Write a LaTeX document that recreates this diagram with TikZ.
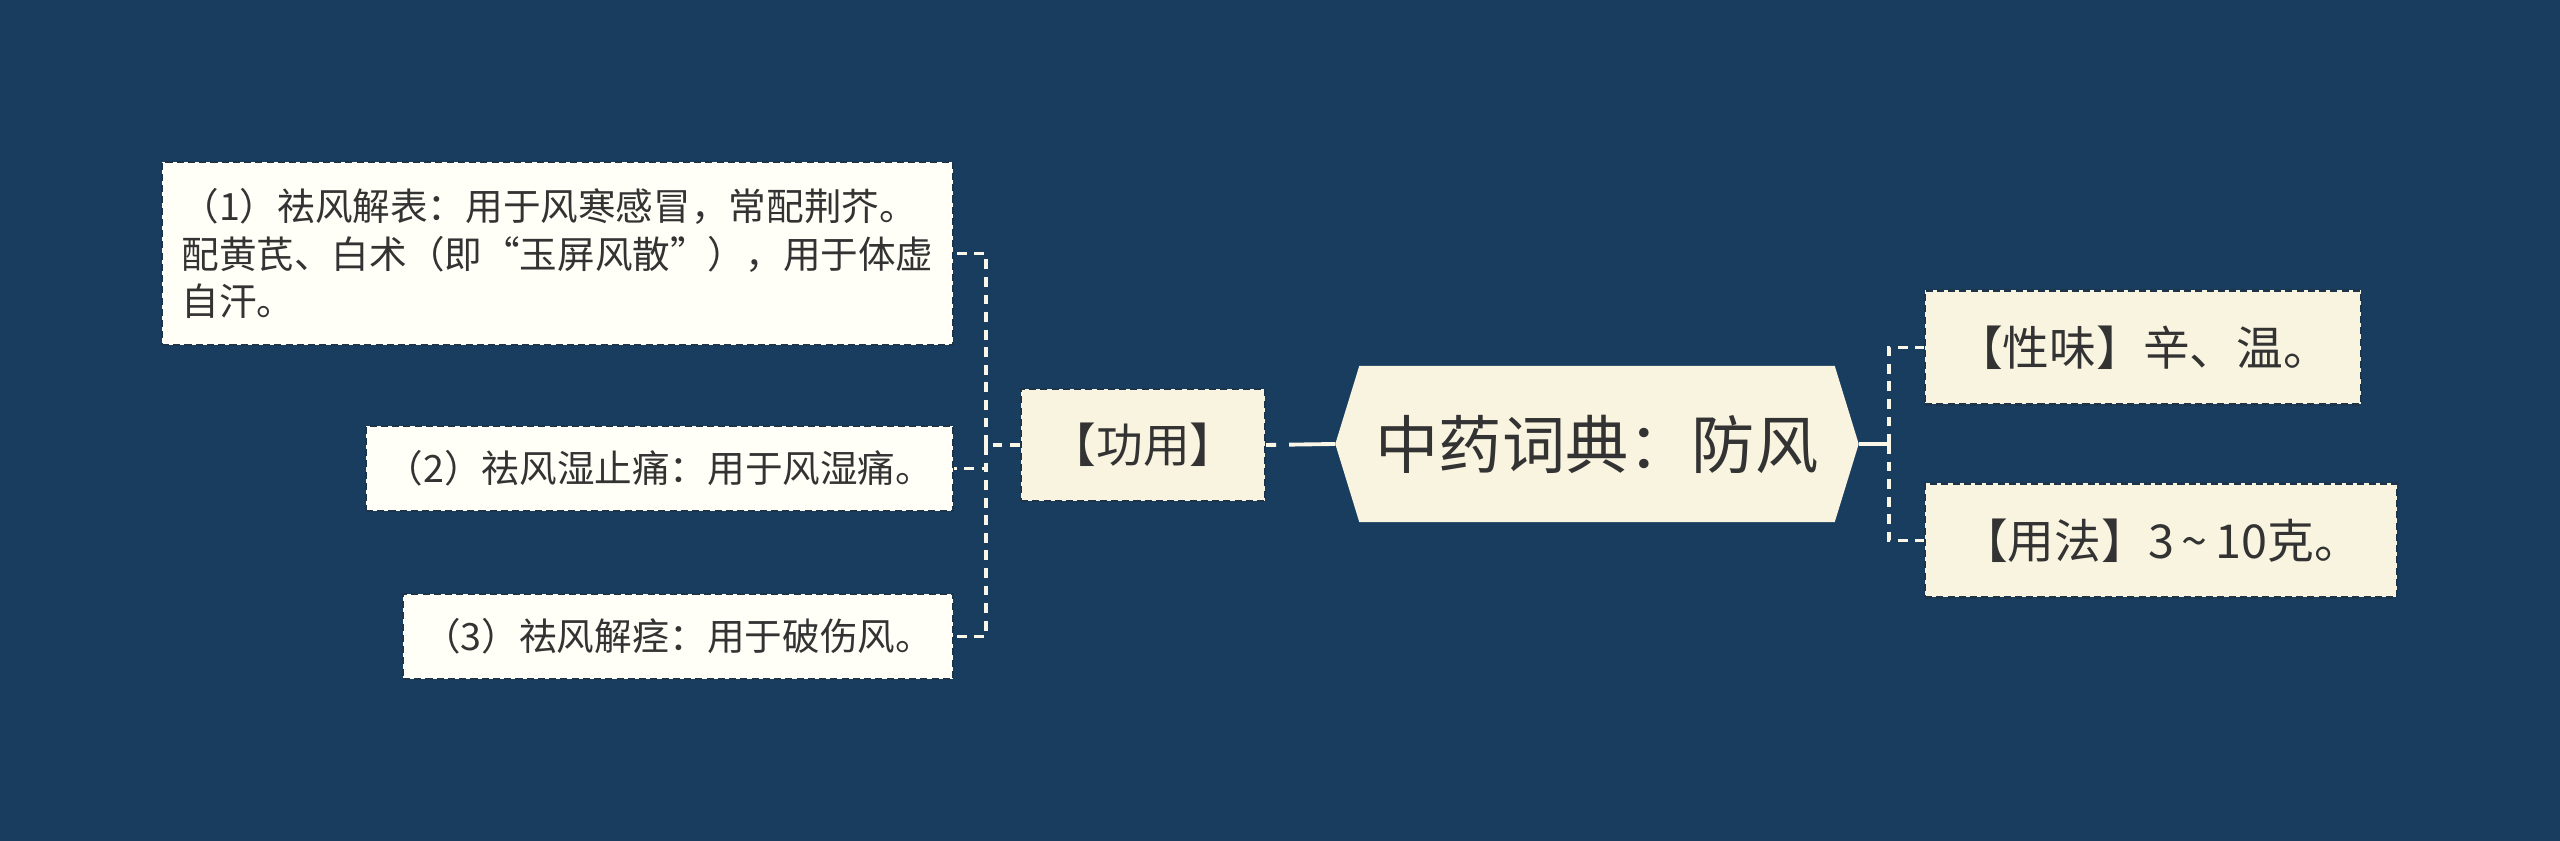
\documentclass[tikz,border=0pt]{standalone}
\usepackage{fontspec}
\setmainfont{Noto Sans CJK SC}
\usetikzlibrary{backgrounds}
\definecolor{navy}{RGB}{24,61,94}
\definecolor{cream}{RGB}{249,244,224}
\definecolor{ivory}{RGB}{255,255,247}
\definecolor{ink}{RGB}{51,51,51}
\definecolor{edge}{RGB}{30,52,74}
\definecolor{wire}{RGB}{250,246,232}
\begin{document}
\begin{tikzpicture}[
  leaf/.style={draw=edge, dash pattern=on 2pt off 1.2pt, line width=0.6pt, fill=ivory,
    text=ink, inner sep=0pt, font=\fontsize{10.7pt}{13.6pt}\selectfont},
  topic/.style={leaf, fill=cream, font=\fontsize{13.3pt}{16pt}\selectfont},
  link/.style={draw=wire, line width=1.1pt},
  linkdash/.style={link, dash pattern=on 2.8pt off 2.2pt}
]
  \useasboundingbox (0,0) rectangle (25.6,8.41);
  % Root
  \node[text=ink, font=\fontsize{18pt}{22pt}\selectfont, minimum width=5.22cm,
    minimum height=1.55cm, inner sep=0pt] (root) at (15.97,3.97) {中药词典：防风};
  \begin{scope}[on background layer]
    \fill[navy] (0,0) rectangle (25.6,8.41);
    \fill[cream] ([xshift=2.4mm]root.north west) -- ([xshift=-2.4mm]root.north east)
      -- (root.east) -- ([xshift=-2.4mm]root.south east)
      -- ([xshift=2.4mm]root.south west) -- (root.west) -- cycle;
  \end{scope}
  % Left branch
  \node[topic, minimum width=2.44cm, minimum height=1.12cm] (gongyong) at (11.43,3.96) {【功用】};
  \node[leaf, align=left, minimum width=7.91cm, minimum height=1.83cm] (leaf1) at (5.575,5.875)
    {（1）祛风解表：用于风寒感冒，常配荆芥。\\配黄芪、白术（即“玉屏风散”），用于体虚\\自汗。};
  \node[leaf, minimum width=5.87cm, minimum height=0.85cm] (leaf2) at (6.595,3.725)
    {（2）祛风湿止痛：用于风湿痛。};
  \node[leaf, minimum width=5.50cm, minimum height=0.85cm] (leaf3) at (6.78,2.045)
    {（3）祛风解痉：用于破伤风。};
  % Right branch
  \node[topic, minimum width=4.36cm, minimum height=1.14cm] (xingwei) at (21.43,4.935) {【性味】辛、温。};
  \node[topic, minimum width=4.72cm, minimum height=1.14cm] (yongfa) at (21.61,3.005)
    {【用法】3\,\char"7E\,10克。};
  % Connectors
  \coordinate (lj) at ([xshift=-3.4mm]gongyong.west);
  \coordinate (rj) at ([xshift=3mm]root.east);
  \draw[link, dash pattern=on 1mm off 1.3mm on 10cm off 0mm] (gongyong.east) -- (root.west);
  \draw[linkdash] (gongyong.west) -- (lj);
  \foreach \n in {leaf1,leaf2,leaf3}
    \draw[linkdash] (lj) |- (\n.east);
  \draw[link] (root.east) -- (rj);
  \draw[linkdash] (rj) |- (xingwei.west);
  \draw[linkdash] (rj) |- (yongfa.west);
\end{tikzpicture}
\end{document}
